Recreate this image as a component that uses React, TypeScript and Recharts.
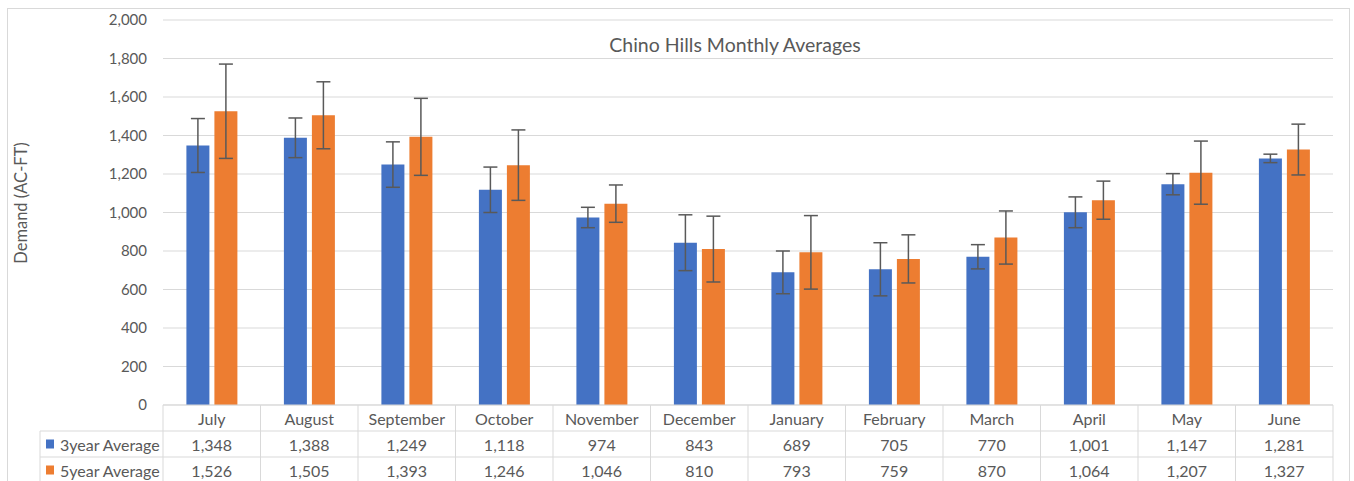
import { BarChart, Bar, XAxis, YAxis, CartesianGrid, ErrorBar } from 'recharts'

const months = ['July', 'August', 'September', 'October', 'November', 'December', 'January', 'February', 'March', 'April', 'May', 'June']
const avg3 = [1348, 1388, 1249, 1118, 974, 843, 689, 705, 770, 1001, 1147, 1281]
const avg5 = [1526, 1505, 1393, 1246, 1046, 810, 793, 759, 870, 1064, 1207, 1327]
// error bar half-lengths
const err3 = [140, 103, 118, 118, 53, 145, 111, 138, 63, 80, 55, 22]
const err5 = [245, 174, 200, 183, 97, 171, 191, 125, 138, 99, 164, 132]
const yTicks = [0, 200, 400, 600, 800, 1000, 1200, 1400, 1600, 1800, 2000]
const seriesNames = ['3year Average', '5year Average']

const W = 1354
const H = 481
const PLOT_LEFT = 163
const PLOT_RIGHT = 1333
const PLOT_TOP = 20
const XAXIS_H = 76
const BAND = (PLOT_RIGHT - PLOT_LEFT) / months.length
const ROW = 26
const LEGEND_W = 123

const BLUE = '#4472C4'
const ORANGE = '#ED7D31'
const GRID = '#d9d9d9'
const TEXT = '#595959'
const FONT = 'Lato, "Open Sans", sans-serif'

const chartData = months.map((m, i) => ({
  month: m,
  avg3: avg3[i],
  avg5: avg5[i],
  err3: err3[i],
  err5: err5[i],
}))

const fmt = (v: number) => v.toLocaleString('en-US')

const TableTick = (props: any) => {
  const { x, y, payload } = props
  const i = payload.index
  const left = x - BAND / 2
  const right = x + BAND / 2
  const bottom = y + ROW * 3 + 4
  const rowVals = [avg3[i], avg5[i]]
  return (
    <g>
      <line x1={left} y1={y} x2={right} y2={y} stroke={GRID} />
      <line x1={left} y1={y + ROW} x2={right} y2={y + ROW} stroke={GRID} />
      <line x1={left} y1={y + ROW * 2} x2={right} y2={y + ROW * 2} stroke={GRID} />
      <line x1={left} y1={y} x2={left} y2={bottom} stroke={GRID} />
      {i === months.length - 1 && <line x1={right} y1={y} x2={right} y2={bottom} stroke={GRID} />}
      <text x={x} y={y + ROW / 2} textAnchor="middle" dominantBaseline="central" fill={TEXT} fontSize={16} fontFamily={FONT}>
        {payload.value}
      </text>
      {rowVals.map((v, r) => (
        <text key={r} x={x} y={y + ROW * (r + 1.5)} textAnchor="middle" dominantBaseline="central" fill={TEXT} fontSize={16} fontFamily={FONT}>
          {fmt(v)}
        </text>
      ))}
      {i === 0 && (
        <g>
          <line x1={left - LEGEND_W} y1={y + ROW} x2={left} y2={y + ROW} stroke={GRID} />
          <line x1={left - LEGEND_W} y1={y + ROW * 2} x2={left} y2={y + ROW * 2} stroke={GRID} />
          <line x1={left - LEGEND_W} y1={y + ROW} x2={left - LEGEND_W} y2={bottom} stroke={GRID} />
          {seriesNames.map((name, r) => (
            <g key={name}>
              <rect x={left - LEGEND_W + 6} y={y + ROW * (r + 1.5) - 4.5} width={8} height={9} fill={r === 0 ? BLUE : ORANGE} />
              <text x={left - LEGEND_W + 20} y={y + ROW * (r + 1.5)} dominantBaseline="central" fill={TEXT} fontSize={16} fontFamily={FONT}>
                {name}
              </text>
            </g>
          ))}
        </g>
      )}
    </g>
  )
}

export default function App() {
  return (
    <div style={{ position: 'absolute', left: 0, top: 0, width: W, height: H, background: '#fff', overflow: 'hidden' }}>
      <div style={{ position: 'absolute', left: 7, top: 8, width: 1341, height: 490, border: `1px solid ${GRID}` }} />
      <div style={{ position: 'absolute', left: 0, top: 0 }}>
        <BarChart
          width={W}
          height={H}
          data={chartData}
          margin={{ top: PLOT_TOP, right: W - PLOT_RIGHT, left: 0, bottom: 0 }}
          barCategoryGap="24%"
          barGap={5}
        >
          <CartesianGrid vertical={false} stroke={GRID} strokeWidth={1} />
          <XAxis
            dataKey="month"
            height={XAXIS_H}
            interval={0}
            axisLine={false}
            tickLine={false}
            tickSize={0}
            tickMargin={0}
            tick={<TableTick />}
          />
          <YAxis
            width={PLOT_LEFT}
            domain={[0, 2000]}
            ticks={yTicks}
            tickFormatter={fmt}
            axisLine={false}
            tickLine={false}
            tickSize={0}
            tickMargin={16}
            tick={{ fill: TEXT, fontSize: 15, fontFamily: FONT }}
          />
          <Bar dataKey="avg3" name={seriesNames[0]} fill={BLUE} isAnimationActive={false}>
            <ErrorBar dataKey="err3" width={7} stroke="#595959" strokeWidth={1.5} isAnimationActive={false} />
          </Bar>
          <Bar dataKey="avg5" name={seriesNames[1]} fill={ORANGE} isAnimationActive={false}>
            <ErrorBar dataKey="err5" width={7} stroke="#595959" strokeWidth={1.5} isAnimationActive={false} />
          </Bar>
        </BarChart>
      </div>
      <svg width={W} height={H} style={{ position: 'absolute', left: 0, top: 0, pointerEvents: 'none' }}>
        <text x={735} y={44} textAnchor="middle" dominantBaseline="central" fill={TEXT} fontSize={19.5} fontFamily={FONT}>
          Chino Hills Monthly Averages
        </text>
        <text
          x={21}
          y={203}
          transform="rotate(-90 21 203)"
          textAnchor="middle"
          dominantBaseline="central"
          fill={TEXT}
          fontSize={16.5}
          fontFamily={FONT}
        >
          Demand (AC-FT)
        </text>
      </svg>
    </div>
  )
}
